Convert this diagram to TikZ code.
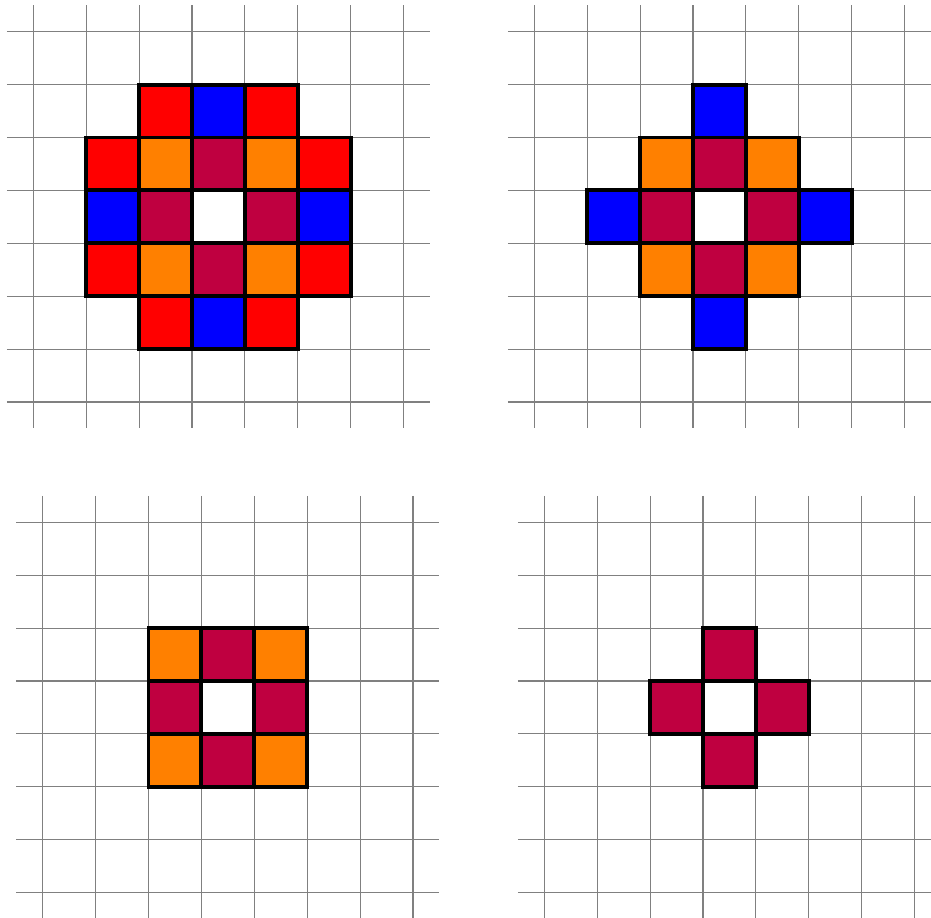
\documentclass[tikz,border=0pt]{standalone}
\begin{document}
\begin{tikzpicture}[
  gridline/.style={draw=black!50, line width=0.6pt},
  cellbox/.style={draw=black, line width=2.1pt},
  panel/.style={y=-1cm}
]
\useasboundingbox (0,0) rectangle (17.599,-17.335);
\clip (0,0) rectangle (17.599,-17.335);

% top-left panel
\begin{scope}[shift={(0.6295,-0.5992)}, panel]
  \foreach \k in {0,...,7} {
    \draw[gridline] (\k,-0.5) -- (\k,7.5);
    \draw[gridline] (-0.5,\k) -- (7.5,\k);
  }
  \foreach \c/\r/\col in {2/1/red,3/1/blue,4/1/red,
    1/2/red,2/2/orange,3/2/purple,4/2/orange,5/2/red,
    1/3/blue,2/3/purple,4/3/purple,5/3/blue,
    1/4/red,2/4/orange,3/4/purple,4/4/orange,5/4/red,
    2/5/red,3/5/blue,4/5/red}
    \filldraw[cellbox, fill=\col] (\c,\r) rectangle ++(1,1);
\end{scope}

% top-right panel
\begin{scope}[shift={(10.100,-0.5992)}, panel]
  \foreach \k in {0,...,7} {
    \draw[gridline] (\k,-0.5) -- (\k,7.5);
    \draw[gridline] (-0.5,\k) -- (7.5,\k);
  }
  \foreach \c/\r/\col in {3/1/blue,
    2/2/orange,3/2/purple,4/2/orange,
    1/3/blue,2/3/purple,4/3/purple,5/3/blue,
    2/4/orange,3/4/purple,4/4/orange,
    3/5/blue}
    \filldraw[cellbox, fill=\col] (\c,\r) rectangle ++(1,1);
\end{scope}

% bottom-left panel
\begin{scope}[shift={(0.8072,-9.873)}, panel]
  \foreach \k in {0,...,7} {
    \draw[gridline] (\k,-0.5) -- (\k,7.5);
    \draw[gridline] (-0.5,\k) -- (7.5,\k);
  }
  \foreach \c/\r/\col in {2/2/orange,3/2/purple,4/2/orange,
    2/3/purple,4/3/purple,
    2/4/orange,3/4/purple,4/4/orange}
    \filldraw[cellbox, fill=\col] (\c,\r) rectangle ++(1,1);
\end{scope}

% bottom-right panel
\begin{scope}[shift={(10.289,-9.873)}, panel]
  \foreach \k in {0,...,7} {
    \draw[gridline] (\k,-0.5) -- (\k,7.5);
    \draw[gridline] (-0.5,\k) -- (7.5,\k);
  }
  \foreach \c/\r/\col in {3/2/purple,
    2/3/purple,4/3/purple,
    3/4/purple}
    \filldraw[cellbox, fill=\col] (\c,\r) rectangle ++(1,1);
\end{scope}
\end{tikzpicture}
\end{document}
